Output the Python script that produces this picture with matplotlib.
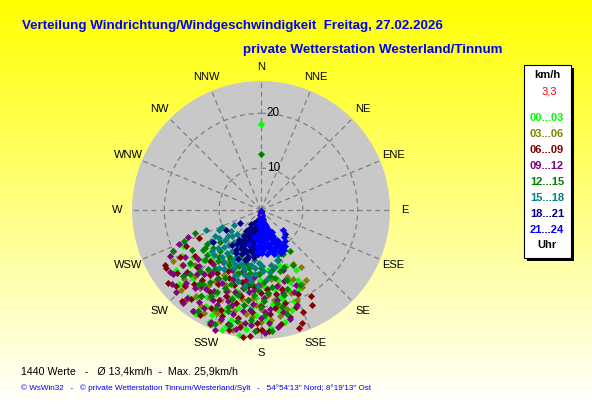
import numpy as np
import matplotlib
matplotlib.use("Agg")
import matplotlib.pyplot as plt
from matplotlib.patches import Rectangle

plt.rcParams['font.family'] = ['Liberation Sans', 'DejaVu Sans']

# compass labels and the radial rings
directions = ['N', 'NNE', 'NE', 'ENE', 'E', 'ESE', 'SE', 'SSE',
              'S', 'SSW', 'SW', 'WSW', 'W', 'WNW', 'NW', 'NNW']
ring_values = [10, 20]
speed_min = 2.36     # value at the centre of the rose
speed_max = 25.9     # outer edge of the rose

# time groups (Uhr) and their colours
groups = ['00...03', '03...06', '06...09', '09...12',
          '12...15', '15...18', '18...21', '21...24']
group_colors = ['#00FF00', '#808000', '#800000', '#800080',
                '#008000', '#008080', '#000080', '#0000FF']

# (direction in degrees, speed km/h)
pts_00_03 = [(0, 18.1), (197, 24.4), (193, 20.7), (178, 22), (166, 19.2), (161, 17.7),
             (235, 17.4), (229, 16.3), (230, 14.5), (173, 13.3), (181, 15.1), (190, 17.1),
             (198, 19), (186, 20.3), (198, 20.9), (166, 15.5), (210, 16), (220, 17),
             (205, 18), (215, 19.5), (225, 20), (200, 22), (185, 23), (175, 24), (170, 21),
             (160, 20), (155, 18.5), (210, 22.5), (220, 23), (205, 25), (190, 25.5),
             (215, 14), (200, 15), (170, 17), (183, 18.5), (195, 13.5), (240, 19),
             (228, 22.5), (212, 21), (156, 13.5), (150, 15),
             (225, 15), (218, 15.8), (207, 14.2), (193, 16), (187, 15), (177, 16.5),
             (168, 18.5), (158, 16.5), (232, 18.8), (220, 20.5), (208, 19.8), (197, 17.8),
             (180, 19.5), (173, 19.7), (163, 21.5), (235, 21.3), (217, 22.2), (205, 23.5),
             (195, 23.2), (183, 21.5), (176, 22.8), (168, 23.2), (212, 24.8), (198, 25.3),
             (187, 24.2), (245, 18), (152, 16.8), (162, 13)]
pts_03_06 = [(149, 13.8), (152, 18.2), (226, 22), (209, 23.8), (203, 22.7), (217, 22),
             (147, 17.6), (159, 15.4), (167, 16.4), (151, 17.9), (200, 15), (210, 16),
             (190, 15.5), (180, 16), (220, 17), (205, 17.5), (195, 18), (185, 18.5),
             (175, 18), (215, 19), (200, 19.5), (190, 20), (180, 20.5), (170, 20),
             (225, 19.5), (210, 21), (195, 21.5), (185, 22), (175, 22.5), (165, 21),
             (220, 24), (200, 24), (190, 23.5), (230, 18), (212, 13.5), (198, 13),
             (183, 14), (160, 18.5), (172, 15), (240, 21),
             (205, 14.5), (193, 14.5), (186, 16.2), (176, 17), (165, 17.5), (225, 18),
             (213, 17.8), (202, 18.3), (192, 19), (183, 19.8), (172, 19), (158, 20),
             (228, 21.2), (218, 20.5), (205, 22.5), (197, 20.5), (188, 21.5), (180, 22.8),
             (170, 22), (212, 23), (193, 24.8), (180, 24.3), (235, 20), (145, 15),
             (155, 16.2), (225, 23)]
pts_06_09 = [(238.6, 22.6), (246, 14.7), (160, 24.4), (157.6, 22.4), (182, 24.2),
             (221, 24.3), (214, 24.6), (156, 19.1), (179.5, 24.2), (190, 24), (165.5, 19.8),
             (230, 20), (220, 19), (210, 18), (200, 17), (190, 16.5), (180, 17.5), (170, 18),
             (225, 22), (215, 21.5), (205, 20.5), (195, 20), (185, 21), (175, 21.5),
             (200, 23), (210, 24.5), (195, 25), (185, 25.5), (170, 23.5), (235, 17),
             (225, 15.5), (208, 15), (195, 14.5), (215, 16.5), (240, 19.5), (232, 24),
             (165, 22.5), (150, 20.5), (202, 22), (188, 19),
             (228, 18), (218, 17.5), (205, 16), (195, 16), (185, 16.5), (176, 16.8),
             (165, 17.2), (233, 21.5), (222, 20.5), (212, 20), (202, 19.2), (193, 18.5),
             (180, 19.8), (172, 20.5), (160, 21.2), (228, 23.2), (218, 23), (207, 22.5),
             (192, 22.5), (182, 23), (176, 24.5), (204, 25.2), (188, 25.8), (244, 17.5),
             (240, 22.5), (152, 22), (162, 25)]
pts_09_12 = [(234, 22.2), (247.5, 18.5), (159, 20.9), (178, 24.9), (201, 25.8), (214, 24.7),
             (220, 23.3), (214, 22.7), (238, 18.7), (160, 14), (188, 23.1), (230, 20.5),
             (225, 19), (220, 21), (215, 20), (210, 19.5), (205, 21.5), (200, 20), (195, 22),
             (190, 21), (185, 19.5), (180, 22), (175, 20.5), (170, 19), (228, 17.5),
             (218, 17), (208, 17.5), (198, 18), (188, 17.5), (178, 18.5), (222, 15.5),
             (212, 15), (202, 16), (192, 15.5), (182, 16), (168, 16.5), (210, 23),
             (200, 23.5), (192, 24.5), (226, 24), (243, 21), (165, 23), (155, 17.5), (172, 24),
             (235, 19.8), (232, 17), (222, 18), (212, 17.3), (203, 18.5), (193, 17),
             (185, 17), (175, 17.5), (165, 18), (236, 22.5), (226, 21.5), (218, 20),
             (208, 21), (197, 20.5), (186, 20.8), (178, 21), (168, 21.3), (158, 18.5),
             (230, 23.5), (220, 24.5), (212, 24), (204, 24.8), (196, 24), (185, 23.5),
             (176, 23), (216, 14.2), (206, 14.5), (196, 14), (186, 14.7), (245, 20),
             (250, 16.5), (162, 16)]
pts_12_15 = [(0, 12.5), (251, 15.1), (232, 11.8), (235, 15.2), (236, 14.7), (175, 24.6),
             (153, 11.3), (161, 12), (185, 10.2), (166, 22), (152.5, 17.7), (145, 11.6),
             (199, 21), (225, 13), (215, 12.5), (205, 12), (195, 12.5), (220, 14.5),
             (210, 14), (200, 14.5), (190, 14), (180, 13), (170, 13.5), (228, 16), (218, 16),
             (208, 16.5), (198, 16), (188, 16), (178, 15.5), (168, 15), (225, 18),
             (215, 18.5), (205, 18), (195, 18.5), (185, 18), (175, 17.5), (220, 20),
             (210, 20.5), (190, 20), (180, 20), (170, 19.5), (205, 22), (185, 22.5),
             (212, 24), (195, 24), (160, 16), (240, 17), (245, 20), (230, 21),
             (232, 13.5), (222, 13.8), (212, 13), (202, 13.3), (192, 13.2), (182, 14),
             (172, 14.5), (163, 14), (238, 14), (230, 15.2), (222, 16.8), (212, 17),
             (202, 17), (192, 17), (182, 17), (172, 16.5), (162, 17.5), (233, 18.5),
             (218, 19.5), (208, 19.3), (198, 19.5), (188, 19), (178, 19), (165, 18.5),
             (228, 19.8), (215, 21.5), (198, 21.8), (178, 21.5), (168, 20.5), (192, 23),
             (202, 24.8), (183, 24.5), (158, 13.5), (150, 14), (248, 17.5)]
pts_15_18 = [(246, 10.1), (235, 9), (225, 8.5), (215, 8), (205, 7.5), (195, 7.5),
             (230, 11), (220, 10), (210, 9.5), (200, 9), (190, 9), (240, 12), (225, 12),
             (215, 11.5), (205, 11), (195, 11), (185, 10.5), (220, 13.5), (210, 13),
             (200, 12.8), (190, 12.5), (182, 12), (205, 14), (195, 14.5), (185, 14),
             (178, 13.5), (159, 11.1), (162, 11.9), (170, 12.5), (250, 13), (230, 14),
             (212, 15), (198, 16), (188, 15.5), (175, 15), (240, 8), (200, 6.5), (214, 6.8),
             (228, 9.5), (218, 9), (208, 8.8), (198, 8.5), (232, 10), (222, 11), (212, 10.5),
             (202, 10), (192, 10.2), (236, 11.5), (228, 12.8), (218, 12.3), (208, 12),
             (198, 11.8), (188, 11.5), (226, 14.2), (216, 14), (206, 13.3), (196, 13.5),
             (186, 13), (179, 12.5), (172, 13.8), (190, 14.8), (202, 15.2), (166, 13),
             (244, 10.8), (238, 13.2), (216, 15.5), (192, 16.5), (182, 16.2)]
pts_18_21 = [(190, 4), (200, 4.5), (210, 5), (195, 5.5), (205, 6.2), (185, 6), (205, 6.5),
             (238, 6.9), (215, 7), (195, 7.5), (195, 6.2), (185, 8), (200, 8.2), (210, 8.5),
             (202, 8.6), (190, 9), (212, 9.5), (205, 9.5), (240, 9.7), (195, 10), (215, 10),
             (202, 10.2), (184, 10.5), (220, 10.6), (188, 11), (210, 11.5), (196, 11.6),
             (198, 12), (236, 12.9), (135, 8.5), (192, 7),
             (195, 4.2), (205, 5), (215, 5.5), (188, 5.2), (200, 5.8), (210, 6.2), (188, 6.5),
             (192, 7.5), (190, 6.8), (198, 6.8), (208, 7.3), (198, 7.2), (186, 7.5),
             (203, 7.8), (213, 8.0), (192, 8.2), (197, 9.3), (196, 8.8), (207, 9), (216, 9.2),
             (190, 10.3), (186, 9.6), (192, 9.8), (200, 10.6), (208, 10.3), (212, 11),
             (195, 11.3), (203, 11), (185, 9.2), (205, 12.3)]
pts_21_24 = [(180, 2.5), (175, 3), (185, 3), (170, 3.5), (180, 3.5), (178, 4), (188, 4),
             (168, 4.5), (175, 4.5), (182, 5), (165, 5), (172, 5.5), (185, 5.5), (160, 6),
             (170, 6), (178, 6), (186, 6.5), (158, 6.5), (165, 7), (175, 7), (182, 7),
             (155, 7.5), (168, 7.5), (178, 8), (185, 8), (152, 8.5), (160, 8.5), (170, 8.5),
             (180, 9), (150, 9), (158, 9.5), (165, 9.5), (175, 9.5), (183, 9.5), (152, 10),
             (162, 10.3), (172, 10.5), (148, 9.8), (140, 8.8), (132, 7.8), (190, 5),
             (195, 7.5), (200, 9), (155, 11),
             (178, 2.6), (183, 2.8), (172, 3.2), (188, 3.3), (176, 3.8), (165, 4), (182, 4.2),
             (170, 4.8), (186, 4.6), (162, 5.5), (176, 5.2), (180, 6.3), (167, 6.2),
             (154, 6.8), (172, 6.8), (188, 7.2), (160, 7.3), (178, 7.5), (162, 8), (172, 8),
             (156, 8.2), (182, 8.4), (166, 8.8), (176, 8.9), (186, 9), (154, 9.2), (170, 9.2),
             (160, 9.8), (168, 10), (178, 10.2), (146, 10.3), (156, 10.5), (164, 10.8),
             (150, 10.8), (186, 10), (143, 9.5)]
group_points = [pts_00_03, pts_03_06, pts_06_09, pts_09_12,
                pts_12_15, pts_15_18, pts_18_21, pts_21_24]

current_dir = 185
current_speed = 3.3

title_1 = 'Verteilung Windrichtung/Windgeschwindigkeit  Freitag, 27.02.2026'
title_2 = 'private Wetterstation Westerland/Tinnum'
summary = '1440 Werte   -   \u00d8 13,4km/h  -  Max. 25,9km/h'
footer = ('\u00a9 WsWin32   -   \u00a9 private Wetterstation Tinnum/Westerland/Sylt   -   '
          '54\u00b054\'13" Nord; 8\u00b019\'13" Ost')

W, H = 592, 407
fig = plt.figure(figsize=(W / 100, H / 100), dpi=100)

# yellow to white gradient background
bg = fig.add_axes([0, 0, 1, 1])
grad = np.linspace(0, 1, 256)[:, None]
img = np.dstack([np.ones_like(grad), np.ones_like(grad), grad])
bg.imshow(img, aspect='auto', extent=[0, 1, 0, 1])
bg.set_axis_off()

# polar rose
cx, cy, rad = 261, 210, 129
ax = fig.add_axes([(cx - rad) / W, (H - cy - rad) / H, 2 * rad / W, 2 * rad / H],
                  projection='polar')
ax.set_theta_zero_location('N')
ax.set_theta_direction(-1)
ax.set_facecolor('#C8C8C8')
ax.spines['polar'].set_visible(False)
ax.set_ylim(speed_min, speed_max)
ax.set_yticks(ring_values)
ax.set_yticklabels([])
ax.set_xticks(np.deg2rad(np.arange(0, 360, 22.5)))
ax.set_xticklabels([])
ax.grid(True, color='#808080', linestyle=(0, (4, 3)), linewidth=0.9)
ax.tick_params(length=0)

for i, (pts, col) in enumerate(zip(group_points, group_colors)):
    d = np.deg2rad([p[0] for p in pts])
    s = [p[1] for p in pts]
    ax.scatter(d, s, marker='D', s=13, color=col, linewidths=0, zorder=3 + i, clip_on=False)
ax.scatter([np.deg2rad(current_dir)], [current_speed], marker='s', s=2, color='red',
           linewidths=0, zorder=20)

label_r = speed_min + 144 / 5.5
for k, name in enumerate(directions):
    ax.text(np.deg2rad(k * 22.5), label_r, name, ha='center', va='center',
            fontsize=8, color='black', clip_on=False)
for v in ring_values:
    ax.annotate(str(v), xy=(0, v), xytext=(4, 0), textcoords='offset points',
                ha='left', va='center', fontsize=8.5, color='black')

# titles
fig.text(22 / W, 1 - 26 / H, title_1, fontsize=9.6, fontweight='bold', color='#0000FF',
         ha='left', va='center')
fig.text(243 / W, 1 - 50 / H, title_2, fontsize=9.6, fontweight='bold', color='#0000FF',
         ha='left', va='center')
fig.text(21 / W, 1 - 371 / H, summary, fontsize=7.7, color='black', ha='left', va='center')
fig.text(21 / W, 1 - 388 / H, footer, fontsize=5.9, color='#0000FF', ha='left', va='center')

# legend box with shadow
bx0, by0, bx1, by1 = 524, 65, 571, 258
fig.patches.append(Rectangle(((bx0 + 3) / W, 1 - (by1 + 3) / H), (bx1 - bx0) / W,
                             (by1 - by0) / H, transform=fig.transFigure,
                             facecolor='black', edgecolor='none', zorder=5))
fig.patches.append(Rectangle((bx0 / W, 1 - by1 / H), (bx1 - bx0) / W, (by1 - by0) / H,
                             transform=fig.transFigure, facecolor='white',
                             edgecolor='black', linewidth=0.8, zorder=6))
lx = 547 / W
fig.text(lx, 1 - 75 / H, 'km/h', fontsize=8, fontweight='bold', color='black',
         ha='center', va='center', zorder=7)
fig.text(549 / W, 1 - 92 / H, f'{current_speed:.1f}'.replace('.', ','), fontsize=8,
         color='red', ha='center', va='center', zorder=7)
for k, (g, col) in enumerate(zip(groups, group_colors)):
    fig.text(lx, 1 - (118 + 16 * k) / H, g, fontsize=8, fontweight='bold', color=col,
             ha='center', va='center', zorder=7)
fig.text(lx, 1 - 245 / H, 'Uhr', fontsize=8, fontweight='bold', color='black',
         ha='center', va='center', zorder=7)

fig.savefig('out.png', dpi=100)
